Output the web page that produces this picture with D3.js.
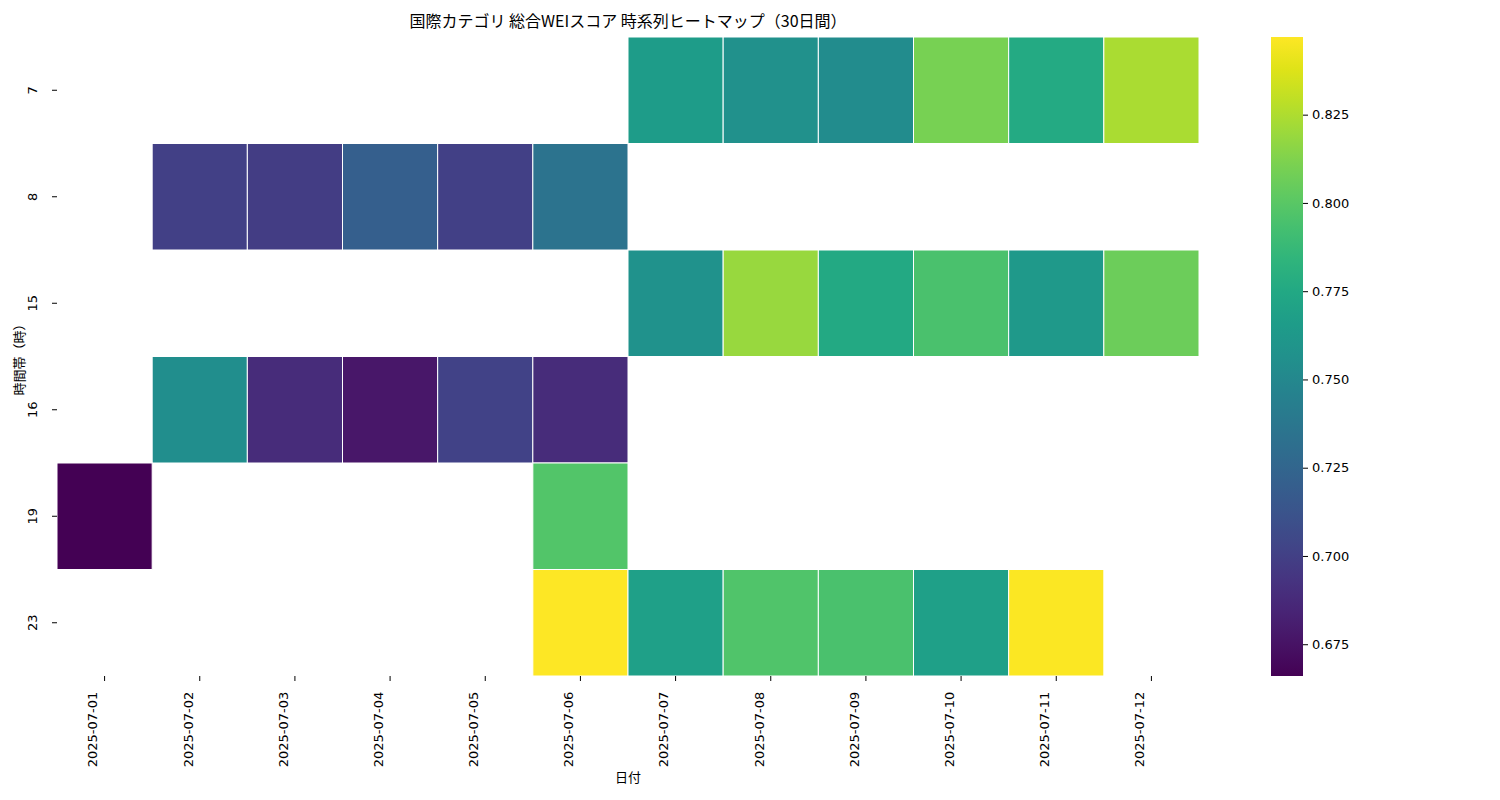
<!DOCTYPE html>
<html><head><meta charset="utf-8">
<script src="https://cdn.jsdelivr.net/npm/d3@7"></script>
<style>body{margin:0;background:#fff;font-family:"Noto Sans CJK JP","DejaVu Sans",sans-serif}</style>
</head><body><svg id="c" width="1500" height="800"></svg>
<script>
const dates=["2025-07-01","2025-07-02","2025-07-03","2025-07-04","2025-07-05","2025-07-06","2025-07-07","2025-07-08","2025-07-09","2025-07-10","2025-07-11","2025-07-12"];
const hours=["7","8","15","16","19","23"];
const cells=[
["7","2025-07-07",0.765],["7","2025-07-08",0.757],["7","2025-07-09",0.753],["7","2025-07-10",0.810],["7","2025-07-11",0.776],["7","2025-07-12",0.824],
["8","2025-07-02",0.700],["8","2025-07-03",0.698],["8","2025-07-04",0.720],["8","2025-07-05",0.700],["8","2025-07-06",0.735],
["15","2025-07-07",0.758],["15","2025-07-08",0.819],["15","2025-07-09",0.775],["15","2025-07-10",0.795],["15","2025-07-11",0.763],["15","2025-07-12",0.806],
["16","2025-07-02",0.755],["16","2025-07-03",0.688],["16","2025-07-04",0.677],["16","2025-07-05",0.702],["16","2025-07-06",0.688],
["19","2025-07-01",0.666],["19","2025-07-06",0.798],
["23","2025-07-06",0.847],["23","2025-07-07",0.768],["23","2025-07-08",0.797],["23","2025-07-09",0.795],["23","2025-07-10",0.768],["23","2025-07-11",0.846]];
const cbTicks=[0.675,0.700,0.725,0.750,0.775,0.800,0.825];

const svg=d3.select("#c");
const L=57,R=1199,T=37,B=676;
const x=d3.scaleBand().domain(dates).range([L,R]);
const y=d3.scaleBand().domain(hours).range([T,B]);
const ext=d3.extent(cells,d=>d[2]);
const col=d3.scaleSequential(d3.interpolateViridis).domain(ext);
svg.append("g").selectAll("rect").data(cells).join("rect")
 .attr("x",d=>x(d[1])).attr("y",d=>y(d[0])).attr("width",x.bandwidth()).attr("height",y.bandwidth())
 .attr("fill",d=>col(d[2])).attr("stroke","#fff").attr("stroke-width",1);
const fs="13px";
const gx=svg.append("g").attr("transform",`translate(0,${B})`).call(d3.axisBottom(x).tickSize(5).tickPadding(4));
gx.select(".domain").remove();
gx.selectAll("text").attr("transform","rotate(-90)").attr("text-anchor","end").attr("dx","-0.6em").attr("dy","-0.55em").attr("x",-8).attr("y",0).style("font-size",fs).style("font-family","DejaVu Sans, sans-serif");
const gy=svg.append("g").attr("transform",`translate(${L},0)`).call(d3.axisLeft(y).tickSize(5).tickPadding(4));
gy.select(".domain").remove();
gy.selectAll("text").attr("transform",function(){return null}).each(function(d){
  d3.select(this).attr("x",null).attr("dy",null).attr("transform",`translate(-14,0) rotate(-90)`).attr("text-anchor","middle").attr("y",-6);
}).style("font-size",fs).style("font-family","DejaVu Sans, sans-serif");
svg.append("text").attr("x",(L+R)/2).attr("y",782).attr("text-anchor","middle").style("font-size","13px").text("日付");
svg.append("text").attr("transform",`translate(24,${(T+B)/2}) rotate(-90)`).attr("text-anchor","middle").style("font-size","13px").text("時間帯（時）");
svg.append("text").attr("x",(L+R)/2).attr("y",27).attr("text-anchor","middle").style("font-size","16px").text("国際カテゴリ 総合WEIスコア 時系列ヒートマップ（30日間）");
// colorbar
const cx=1271,cw=32;
const cy=d3.scaleLinear().domain(ext).range([B,T]);
const defs=svg.append("defs");
const grad=defs.append("linearGradient").attr("id","g").attr("x1",0).attr("y1",1).attr("x2",0).attr("y2",0);
d3.range(0,1.0001,0.05).forEach(t=>grad.append("stop").attr("offset",t).attr("stop-color",d3.interpolateViridis(t)));
svg.append("rect").attr("x",cx).attr("y",T).attr("width",cw).attr("height",B-T).attr("fill","url(#g)");
const gc=svg.append("g").attr("transform",`translate(${cx+cw},0)`).call(d3.axisRight(cy).tickValues(cbTicks).tickFormat(d3.format(".3f")).tickSize(5).tickPadding(4));
gc.select(".domain").remove();
gc.selectAll("text").style("font-size",fs).style("font-family","DejaVu Sans, sans-serif");
</script></body></html>
